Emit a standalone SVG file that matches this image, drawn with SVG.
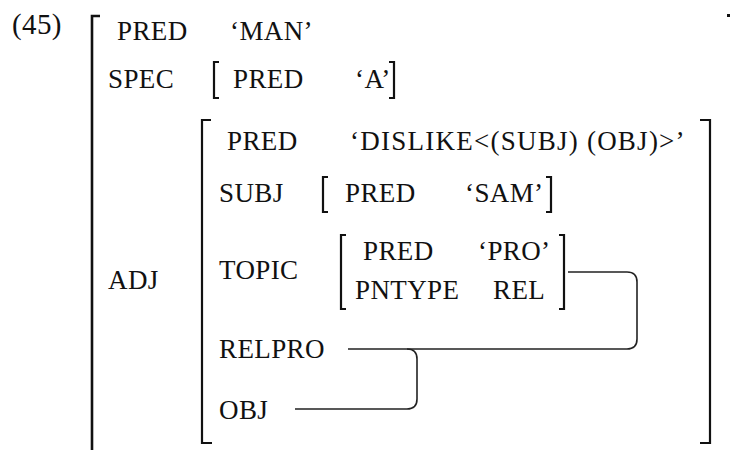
<svg xmlns="http://www.w3.org/2000/svg" width="730" height="450" viewBox="0 0 730 450">
<style>
  text { font-family: "Liberation Serif", "Times New Roman", serif; font-size: 27px; fill: #111; letter-spacing: 0.4px; }
  .br { fill: none; stroke: #111; stroke-width: 2.2; }
  .con { fill: none; stroke: #222; stroke-width: 1.6; }
</style>
<rect x="0" y="0" width="730" height="450" fill="#fff"/>
<g id="label"><text x="12" y="34" style="font-size:29px">(45)</text></g>
<g id="outer">
  <path class="br" d="M 100 16 H 92 V 452" style="stroke-width:2.6"/>
  <rect x="727" y="14" width="3" height="3" fill="#111"/>
  <text x="117" y="40">PRED</text>
  <text x="230" y="40">‘MAN’</text>
</g>
<g id="spec">
  <text x="108" y="88">SPEC</text>
  <path class="br" d="M 219 62 H 214 V 98 H 219"/>
  <text x="233" y="88">PRED</text>
  <text x="355" y="88">‘A’</text>
  <path class="br" d="M 389 62 H 394 V 98 H 389"/>
</g>
<g id="adj">
  <text x="108" y="289">ADJ</text>
  <path class="br" d="M 211 120 H 202 V 443 H 212"/>
  <path class="br" d="M 700 120 H 710 V 443 H 700"/>
  <text x="227" y="150">PRED</text>
  <text x="350" y="150" textLength="335" lengthAdjust="spacing">‘DISLIKE&lt;(SUBJ) (OBJ)&gt;’</text>
</g>
<g id="subj">
  <text x="219" y="202">SUBJ</text>
  <path class="br" d="M 328 177 H 323 V 212 H 328"/>
  <text x="345" y="202">PRED</text>
  <text x="465" y="202">‘SAM’</text>
  <path class="br" d="M 546 177 H 551 V 212 H 546"/>
</g>
<g id="topic">
  <text x="219" y="279">TOPIC</text>
  <path class="br" d="M 346 235 H 341 V 309 H 346"/>
  <text x="363" y="260">PRED</text>
  <text x="478" y="260">‘PRO’</text>
  <text x="355" y="299">PNTYPE</text>
  <text x="493" y="299">REL</text>
  <path class="br" d="M 559 235 H 564 V 309 H 559"/>
</g>
<g id="relpro"><text x="219" y="358">RELPRO</text></g>
<g id="obj"><text x="219" y="419">OBJ</text></g>
<g id="connectors">
  <path class="con" d="M 568 272 H 627 Q 637 272 637 282 V 339 Q 637 349 627 349 H 348"/>
  <path class="con" d="M 295 409 H 407 Q 417 409 417 399 V 359 Q 417 349 407 349"/>
</g>
</svg>
